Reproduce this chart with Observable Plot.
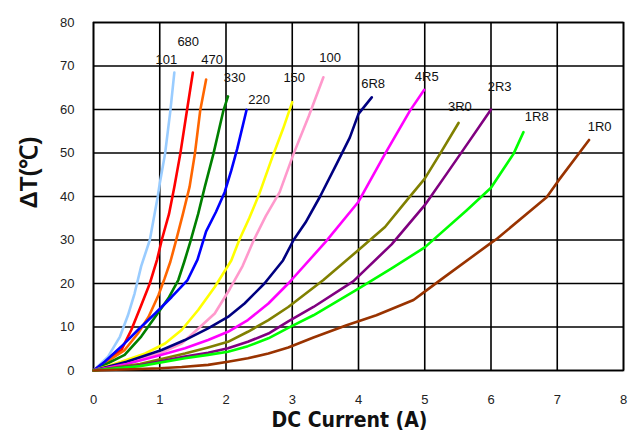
<!DOCTYPE html>
<html>
<head>
<meta charset="utf-8">
<script src="https://cdn.jsdelivr.net/npm/d3@7"></script>
<script src="https://cdn.jsdelivr.net/npm/@observablehq/plot@0.6"></script>
<style>
  html, body { margin: 0; padding: 0; background: #fff; }
  #chart svg { display: block; }
</style>
</head>
<body>
<div id="chart"></div>
<script>
// Series names (inductance codes) and their colours
const names  = ["101", "680", "470", "330", "220", "150", "100", "6R8", "4R5", "3R0", "2R3", "1R8", "1R0"];
const colors = ["#99ccff", "#ff0000", "#ff6600", "#008000", "#0000ff", "#ffff00", "#ff99cc", "#000080", "#ff00ff", "#808000", "#800080", "#00ff00", "#993300"];

// [DC current (A), temperature rise (°C)]
const s101 = [[0,0],[0.22,3.2],[0.40,7.8],[0.52,12.7],[0.62,17.7],[0.72,24],[0.85,30],[0.97,40],[1.0,43],[1.08,49.8],[1.16,59.7],[1.22,68.5]];
const s680 = [[0,0],[0.42,4.7],[0.57,9.3],[0.71,14.6],[0.85,20],[0.96,25.5],[1.03,30],[1.14,36],[1.22,42.2],[1.31,49.8],[1.41,59.7],[1.50,68.5]];
const s470 = [[0,0],[0.47,4.7],[0.67,8.5],[0.83,12.3],[0.98,17.3],[1.07,21],[1.16,25],[1.24,29.5],[1.35,36],[1.45,42.2],[1.53,49.8],[1.61,59.7],[1.70,66.9]];
const s330 = [[0,0],[0.47,3.6],[0.72,7.8],[0.93,12.3],[1.13,16.6],[1.28,20.8],[1.37,25],[1.46,29.5],[1.58,36],[1.68,42.2],[1.81,49.8],[1.96,59.7],[2.03,63]];
const s220 = [[0,0],[0.17,2.0],[0.42,5.5],[0.67,9.3],[0.93,13.1],[1.18,16.9],[1.42,20.8],[1.57,25.5],[1.70,32],[1.85,36.5],[1.98,41],[2.08,46],[2.17,51],[2.31,59.9]];
const s150 = [[0,0],[0.42,2.0],[0.78,3.9],[1.08,6.2],[1.33,9.3],[1.58,13.9],[1.83,19.2],[2.08,25.3],[2.2,30],[2.35,35],[2.5,40.5],[2.71,49.5],[2.86,55.5],[3.0,61.7]];
const s100 = [[0,0],[0.67,2.4],[1.03,4.1],[1.33,6.2],[1.55,9.2],[1.83,13.1],[2.06,18.8],[2.25,24],[2.42,30],[2.6,35.5],[2.81,41],[3.02,49.8],[3.25,58.5],[3.47,67.4]];
const s6R8 = [[0,0],[0.5,2.0],[1.03,4.7],[1.38,7.0],[1.73,9.7],[2.03,12.3],[2.28,15.4],[2.58,20.0],[2.86,25.3],[3.02,30],[3.2,34],[3.42,40],[3.67,47.5],[3.87,53.6],[4.0,59],[4.2,62.8]];
const s4R5 = [[0,0],[0.5,1.5],[1.03,3.6],[1.38,5.1],[1.73,7.0],[2.03,8.9],[2.33,11.6],[2.64,15.4],[2.94,20.0],[3.5,29.5],[4.0,38.8],[4.40,49.8],[4.78,59.8],[4.99,64.5]];
const s3R0 = [[0,0],[0.7,1.5],[1.38,3.9],[1.73,5.3],[2.03,6.6],[2.33,8.9],[2.64,11.6],[2.94,14.6],[3.47,20.8],[4.0,27.7],[4.4,33],[4.75,39.5],[5.0,44.1],[5.23,49.8],[5.51,56.9]];
const s2R3 = [[0,0],[0.7,1.2],[1.38,3.2],[1.73,4.1],[2.03,5.1],[2.33,6.6],[2.64,8.5],[2.94,11.3],[3.32,14.6],[3.92,20.5],[4.5,29],[5.0,38],[5.33,45.2],[5.68,52.9],[6.0,60]];
const s1R8 = [[0,0],[0.7,1.0],[1.38,2.8],[1.73,3.6],[2.03,4.3],[2.33,5.6],[2.64,7.4],[2.94,9.8],[3.32,12.7],[4.0,18.8],[4.5,23.5],[5.0,28.3],[5.63,36.8],[6.0,42],[6.34,49.8],[6.49,54.8]];
const s1R0 = [[0,0],[1.0,0.5],[1.33,0.8],[1.73,1.3],[2.03,2.0],[2.33,2.8],[2.64,3.9],[2.94,5.3],[3.32,7.6],[3.82,10.4],[4.27,12.7],[4.83,16.2],[4.98,17.9],[5.28,21.3],[5.98,29.1],[6.09,30.3],[6.84,39.8],[7.02,43.7],[7.48,53]];
const seriesValues = [s101, s680, s470, s330, s220, s150, s100, s6R8, s4R5, s3R0, s2R3, s1R8, s1R0];

// Label anchor points (in data units: current, temperature rise)
const labelCurrent = [1.10, 1.43, 1.79, 2.13, 2.50, 3.03, 3.57, 4.22, 5.03, 5.53, 6.13, 6.69, 7.64];
const labelRise    = [71.4, 75.6, 71.4, 67.2, 62.2, 67.2, 71.8, 65.9, 67.5, 60.6, 65.2, 58.3, 56.0];

// Axis ticks and titles
const xTicks = [0, 1, 2, 3, 4, 5, 6, 7, 8];
const yTicks = [0, 10, 20, 30, 40, 50, 60, 70, 80];
const xTitle = "DC Current (A)";
const yTitle = "ΔT(℃)";

const data = names.flatMap((name, i) => seriesValues[i].map(([I, T]) => ({name, I, T})));
const labels = names.map((name, i) => ({name, I: labelCurrent[i], T: labelRise[i]}));

const chart = Plot.plot({
  width: 641,
  height: 438,
  marginLeft: 93,
  marginRight: 18,
  marginTop: 22,
  marginBottom: 68,
  style: {fontFamily: "Arial, 'Liberation Sans', sans-serif", background: "#fff"},
  x: {domain: [0, 8]},
  y: {domain: [0, 80]},
  color: {domain: names, range: colors},
  marks: [
    Plot.gridX(xTicks, {stroke: "#000", strokeOpacity: 1, strokeWidth: 1.6}),
    Plot.gridY(yTicks, {stroke: "#000", strokeOpacity: 1, strokeWidth: 1.6}),
    Plot.frame({stroke: "#000", strokeWidth: 1.6}),
    Plot.axisX(xTicks, {tickSize: 0, tickPadding: 24, fontSize: 13, fill: "#222", label: null}),
    Plot.axisY(yTicks, {tickSize: 0, tickPadding: 19, fontSize: 13, fill: "#222", label: null}),
    Plot.line(data, {x: "I", y: "T", z: "name", stroke: "name", strokeWidth: 2.6, strokeLinejoin: "round", strokeLinecap: "round"}),
    Plot.text(labels, {x: "I", y: "T", text: "name", fontSize: 13, fill: "#111"}),
    Plot.text([xTitle], {frameAnchor: "bottom", dy: 56, dx: -9, fontSize: 21, fontWeight: "bold", fill: "#111", fontFamily: "'DejaVu Sans Condensed', 'Liberation Sans Narrow', Arial, sans-serif", fontStretch: "condensed"}),
    Plot.text([yTitle], {frameAnchor: "left", dx: -64, dy: 12, rotate: -90, fontSize: 24, fontWeight: "bold", fill: "#111"})
  ]
});
document.getElementById("chart").appendChild(chart);
</script>
</body>
</html>
